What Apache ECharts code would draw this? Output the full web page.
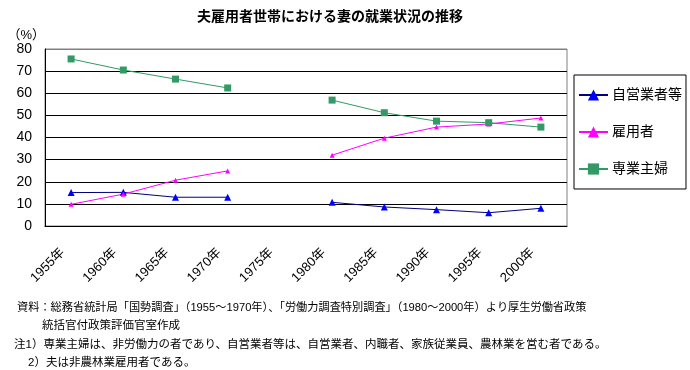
<!DOCTYPE html>
<html><head><meta charset="utf-8">
<script src="https://cdn.jsdelivr.net/npm/echarts@6/dist/echarts.min.js"></script>
<style>html,body{margin:0;padding:0;background:#fff}#c{width:690px;height:370px}</style>
</head><body><div id="c"></div>
<script>
const categories = ['1955年','1960年','1965年','1970年','1975年','1980年','1985年','1990年','1995年','2000年'];
const selfEmployed = [15.1, 15.2, 13.0, 13.0, null, 10.7, 8.6, 7.4, 6.0, 8.0];
const employed = [9.8, 14.4, 20.7, 24.9, null, 32.0, 39.7, 44.7, 46.1, 48.8];
const housewife = [75.5, 70.5, 66.4, 62.4, null, 56.9, 51.2, 47.4, 46.7, 44.7];
const seriesNames = ['自営業者等', '雇用者', '専業主婦'];
const yTicks = [0, 10, 20, 30, 40, 50, 60, 70, 80];
const titleText = '夫雇用者世帯における妻の就業状況の推移';
const notes = [
  '資料：総務省統計局「国勢調査」（1955～1970年）、「労働力調査特別調査」（1980～2000年）より厚生労働省政策',
  '統括官付政策評価官室作成',
  '注1）専業主婦は、非労働力の者であり、自営業者等は、自営業者、内職者、家族従業員、農林業を営む者である。',
  '2）夫は非農林業雇用者である。'
];
const FONT = '"Liberation Sans", "Noto Sans CJK JP", sans-serif';
const chart = echarts.init(document.getElementById('c'));
chart.setOption({
  animation: false,
  backgroundColor: '#fff',
  title: {
    text: titleText, left: 325, top: 5, textAlign: 'center',
    textStyle: { fontFamily: FONT, fontSize: 14, fontWeight: 'bold', color: '#000' }
  },
  grid: { left: 45, right: 123, top: 49, bottom: 144, show: true, borderColor: '#808080', borderWidth: 1 },
  legend: {
    data: seriesNames, orient: 'vertical', left: 574, top: 75,
    padding: [13, 4, 13, 4], itemGap: 23, itemWidth: 29, itemHeight: 14,
    borderColor: '#000', borderWidth: 1,
    textStyle: { fontFamily: FONT, fontSize: 14, color: '#000', padding: [0,0,0,-1] }
  },
  xAxis: {
    type: 'category', data: categories, boundaryGap: true,
    axisLine: { lineStyle: { color: '#000', width: 1 } },
    axisTick: { inside: true, length: 5, lineStyle: { color: '#000' } },
    axisLabel: { rotate: 45, interval: 0, margin: 16, padding: [0, 12, 0, 0], fontFamily: FONT, fontSize: 13, color: '#000' },
    splitLine: { show: false }
  },
  yAxis: {
    type: 'value', min: yTicks[0], max: yTicks[yTicks.length - 1], interval: 10,
    name: '（%）', nameLocation: 'end', nameGap: 6,
    nameTextStyle: { fontFamily: FONT, fontSize: 13, color: '#000', align: 'right', padding: [0, 0, 0, 0] },
    axisLine: { show: true, lineStyle: { color: '#000', width: 1 } },
    axisTick: { show: false },
    axisLabel: { margin: 13, fontFamily: FONT, fontSize: 14, color: '#000' },
    splitLine: { show: true, lineStyle: { color: ['#000','#000','#000','#000','#000','#000','#000','#000','#808080'], width: 1 } }
  },
  series: [
    { name: seriesNames[0], type: 'line', data: selfEmployed, connectNulls: false,
      symbol: 'triangle', symbolSize: 7, showAllSymbol: true,
      lineStyle: { color: '#000080', width: 1 }, itemStyle: { color: '#0000ff' } },
    { name: seriesNames[1], type: 'line', data: employed, connectNulls: false,
      symbol: 'triangle', symbolSize: 5, showAllSymbol: true,
      lineStyle: { color: '#ff00ff', width: 1 }, itemStyle: { color: '#ff00ff' } },
    { name: seriesNames[2], type: 'line', data: housewife, connectNulls: false,
      symbol: 'rect', symbolSize: 7, showAllSymbol: true,
      lineStyle: { color: '#339966', width: 1 }, itemStyle: { color: '#339966' } }
  ],
  graphic: [
    { type: 'text', left: 17, top: 302, style: { text: notes[0], font: '11.2px ' + FONT, fill: '#000' } },
    { type: 'text', left: 42, top: 320, style: { text: notes[1], font: '11.5px ' + FONT, fill: '#000' } },
    { type: 'text', left: 14, top: 339, style: { text: notes[2], font: '11.5px ' + FONT, fill: '#000' } },
    { type: 'text', left: 28, top: 357, style: { text: notes[3], font: '11.5px ' + FONT, fill: '#000' } }
  ]
});
</script></body></html>
